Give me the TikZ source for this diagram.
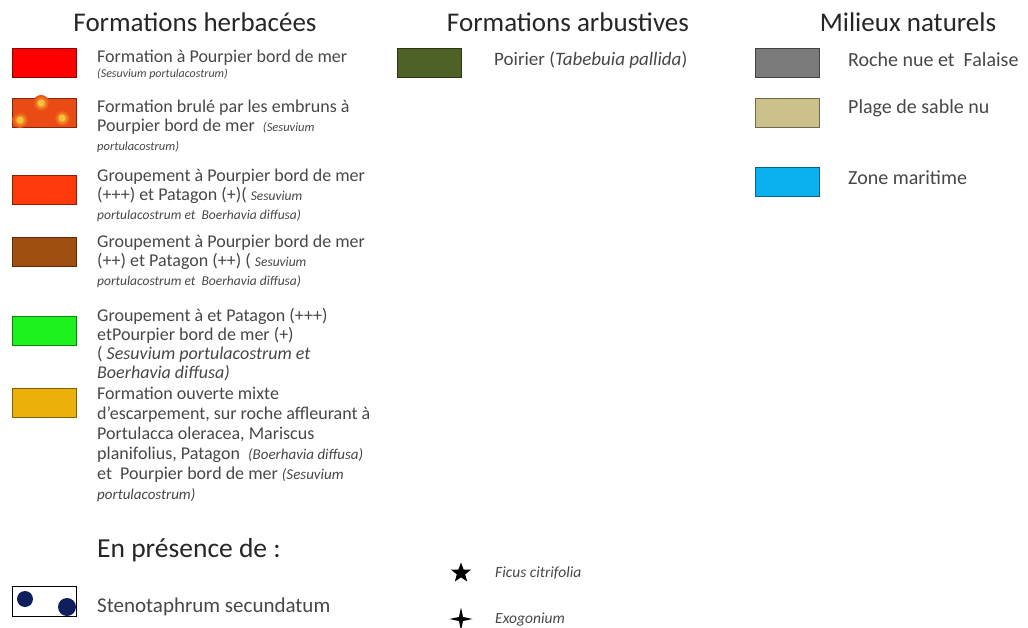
\documentclass[tikz,border=0pt]{standalone}
\usepackage{fontspec}
\setmainfont{Carlito}
\usepackage{tikz}
\usetikzlibrary{positioning}
\usetikzlibrary{shapes.geometric}
\definecolor{legRed}{HTML}{FF0000}
\definecolor{legBurnt}{HTML}{EA4A14}
\definecolor{legBurntDot}{HTML}{F7C23A}
\definecolor{legOrange}{HTML}{FF3A0A}
\definecolor{legBrown}{HTML}{A14F10}
\definecolor{legGreen}{HTML}{1EF21E}
\definecolor{legAmber}{HTML}{EBB10A}
\definecolor{legOlive}{HTML}{4E6228}
\definecolor{legRock}{HTML}{7A7A7A}
\definecolor{legSand}{HTML}{CCC18A}
\definecolor{legSea}{HTML}{0BB0EE}
\definecolor{legNavy}{HTML}{0D1F5C}
\newcommand{\tikzLegendBox}[3]{\node[legbox, fill=#2, draw=#2!55!black] (#1) at #3 {}}
\newcommand{\sciName}[2][12.5]{{\fontsize{#1}{14}\selectfont\itshape #2}}

\tikzset{
  legbox/.style = {rectangle, minimum width=64pt, minimum height=29pt, line width=1.4pt, inner sep=0pt},
  legtext/.style = {anchor=north west, align=left, inner sep=0pt, text=black!72, font=\fontsize{18}{19}\selectfont},
  legline/.style = {anchor=west, inner sep=0pt, text=black!72, font=\fontsize{19}{21}\selectfont},
  legtitle/.style = {inner sep=0pt, text=black!85, font=\fontsize{27}{30}\selectfont},
  legmark/.style = {star, fill=black, draw=none, inner sep=0pt}
}

\begin{document}
\begin{tikzpicture}[x=1pt, y=-1pt]
  \useasboundingbox (0,0) rectangle (1028,628);
  % column titles
  \node[legtitle] (tHerb) at (195,22) {Formations herbacées};
  \node[legtitle] (tArbu) at (568,22) {Formations arbustives};
  \node[legtitle] (tMil) at (908,22) {Milieux naturels};

  % formations herbacees
  \tikzLegendBox{bPourpier}{legRed}{(44.5,63)};
  \tikzLegendBox{bBrule}{legBurnt}{(44.5,113)};
  \foreach \dotX/\dotY in {20/120, 41/103, 62/118}{
      \shade[inner color=legBurntDot, outer color=legBurnt] (\dotX,\dotY) circle (8pt);
      \fill[legBurntDot] (\dotX,\dotY) circle (3.5pt);
    }
  \tikzLegendBox{bGroupA}{legOrange}{(44.5,190)};
  \tikzLegendBox{bGroupB}{legBrown}{(44.5,252)};
  \tikzLegendBox{bGroupC}{legGreen}{(44.5,331)};
  \tikzLegendBox{bOuverte}{legAmber}{(44.5,403)};

  \node[legtext] (xPourpier) at (97,50) {Formation à Pourpier bord de mer\\[-4pt]
    \sciName[12]{(Sesuvium portulacostrum)}};
  \node[legtext] (xBrule) at (97,100) {Formation brulé par les embruns à\\
    Pourpier bord de mer \ \sciName{(Sesuvium}\\
    \sciName{portulacostrum)}};
  \node[legtext] (xGroupA) at (97,169) {Groupement à Pourpier bord de mer\\
    (+++) et Patagon (+)( \sciName[13.5]{Sesuvium}\\
    \sciName[13.5]{portulacostrum et \ Boerhavia diffusa)}};
  \node[legtext] (xGroupB) at (97,235) {Groupement à Pourpier bord de mer\\
    (++) et Patagon (++) ( \sciName[13.5]{Sesuvium}\\
    \sciName[13.5]{portulacostrum et \ Boerhavia diffusa)}};
  \node[legtext] (xGroupC) at (97,308) {Groupement à et Patagon (+++)\\
    etPourpier bord de mer (+)\\
    ( \textit{Sesuvium portulacostrum et}\\
    \textit{Boerhavia diffusa)}};
  \node[legtext, font=\fontsize{18}{20}\selectfont] (xOuverte) at (97,387) {Formation ouverte mixte\\
    d'escarpement, sur roche affleurant à\\
    Portulacca oleracea, Mariscus\\
    planifolius, Patagon \ \sciName[15]{(Boerhavia diffusa)}\\
    et \ Pourpier bord de mer \sciName[15]{(Sesuvium}\\
    \sciName[15]{portulacostrum)}};

  % en presence de
  \node[legtitle, anchor=west, font=\fontsize{27.5}{30}\selectfont] (tPres) at (97,550) {En présence de :};
  \node[legbox, draw=black, fill=white, line width=1pt, minimum height=30pt] (bSteno) at (44.5,601) {};
  \fill[legNavy] (25,599) circle (8pt);
  \fill[legNavy] (67,607) circle (9pt);
  \node[legline, font=\fontsize{21}{23}\selectfont] (xSteno) at (97,607) {Stenotaphrum secundatum};

  \node[legmark, star points=5, star point ratio=2.4, minimum size=21pt] (mFicus) at (461,573) {};
  \node[legline, font=\fontsize{15.5}{17}\selectfont\itshape] (xFicus) at (495,573) {Ficus citrifolia};
  \node[legmark, star points=4, star point ratio=4, minimum size=23pt] (mExo) at (461,619) {};
  \node[legline, font=\fontsize{15.5}{17}\selectfont\itshape] (xExo) at (495,619) {Exogonium};

  % formations arbustives
  \tikzLegendBox{bPoirier}{legOlive}{(429.5,63)};
  \node[legline] (xPoirier) at (494,60) {Poirier (\textit{Tabebuia pallida})};

  % milieux naturels
  \tikzLegendBox{bRoche}{legRock}{(787.5,63)};
  \tikzLegendBox{bPlage}{legSand}{(787.5,113)};
  \tikzLegendBox{bMer}{legSea}{(787.5,182)};
  \node[legline, font=\fontsize{20}{22}\selectfont] (xRoche) at (848,60) {Roche nue et \ Falaise};
  \node[legline, font=\fontsize{20}{22}\selectfont] (xPlage) at (848,108) {Plage de sable nu};
  \node[legline, font=\fontsize{20}{22}\selectfont] (xMer) at (848,178) {Zone maritime};
\end{tikzpicture}
\end{document}
